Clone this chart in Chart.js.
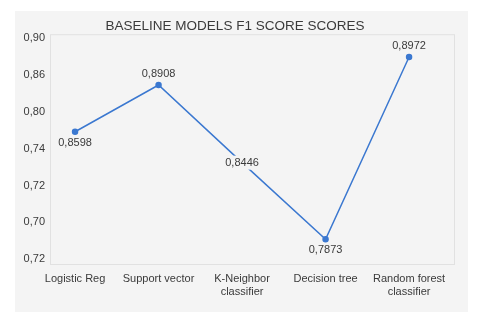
<!DOCTYPE html>
<html>
<head>
<meta charset="utf-8">
<script src="https://cdn.jsdelivr.net/npm/chart.js@4"></script>
<style>
  body { margin: 0; background: #fff; }
  #panel { position: absolute; left: 15px; top: 11px; width: 453px; height: 301px; background: #f4f4f4; }
</style>
</head>
<body>
<div id="panel"><canvas id="scoreChart" width="453" height="301"></canvas></div>
<script>
const models = [["Logistic Reg"], ["Support vector"], ["K-Neighbor", "classifier"], ["Decision tree"], ["Random forest", "classifier"]];
// F1 scores as printed next to each point
const scores = [0.8598, 0.8908, 0.8446, 0.7873, 0.8972];
// where each point sits against the (odd) y tick rows, bottom row = 0
const plotPos = [3.46, 4.73, 2.62, 0.54, 5.49];
// y tick labels, bottom to top, as they appear on the chart
const yTickLabels = ["0,72", "0,70", "0,72", "0,74", "0,80", "0,86", "0,90"];

const blue = "#3b78d0";
const textColor = "#3a3a3a";

const boxPlugin = {
    id: "box",
    beforeDatasetsDraw(chart) {
        const a = chart.chartArea;
        const ctx = chart.ctx;
        ctx.save();
        ctx.strokeStyle = "#e1e1e1";
        ctx.lineWidth = 1;
        ctx.strokeRect(a.left + 0.5, a.top + 0.5, a.right - a.left - 1, a.bottom - a.top - 1);
        ctx.restore();
    }
};

const labelPlugin = {
    id: "pointLabels",
    afterDatasetsDraw(chart) {
        const ctx = chart.ctx;
        const pts = chart.getDatasetMeta(0).data;
        ctx.save();
        ctx.font = "11px 'Liberation Sans', Arial, sans-serif";
        ctx.textAlign = "center";
        ctx.textBaseline = "middle";
        pts.forEach((p, i) => {
            const prev = i > 0 ? plotPos[i - 1] : null;
            const next = i < plotPos.length - 1 ? plotPos[i + 1] : null;
            const v = plotPos[i];
            const higher = (prev === null || v > prev) && (next === null || v > next);
            const lower = (prev === null || v < prev) && (next === null || v < next);
            const text = scores[i].toFixed(4).replace(".", ",");
            let y = p.y;
            if (higher) y -= 11;
            else if (lower) y += 11;
            else {
                const w = ctx.measureText(text).width;
                ctx.fillStyle = "#f4f4f4";
                ctx.fillRect(p.x - w / 2 - 2, y - 7, w + 4, 14);
            }
            ctx.fillStyle = textColor;
            ctx.fillText(text, p.x, y);
        });
        ctx.restore();
    }
};

new Chart(document.getElementById("scoreChart"), {
    type: "line",
    data: {
        datasets: [{
            data: plotPos.map((v, i) => ({ x: i, y: v })),
            borderColor: blue,
            backgroundColor: blue,
            borderWidth: 1.5,
            pointRadius: 2.5,
            pointHoverRadius: 2.5,
            tension: 0
        }]
    },
    options: {
        responsive: false,
        animation: false,
        layout: { padding: { top: 2, right: 13, bottom: 0, left: 0 } },
        plugins: {
            legend: { display: false },
            tooltip: { enabled: false },
            title: {
                display: true,
                text: "BASELINE MODELS F1 SCORE SCORES",
                color: textColor,
                font: { family: "'Liberation Sans', Arial, sans-serif", size: 13.5, weight: "normal" },
                padding: { top: 5, bottom: 0 }
            }
        },
        scales: {
            x: {
                type: "linear",
                min: -0.3,
                max: 4.55,
                afterBuildTicks: s => { s.ticks = models.map((m, i) => ({ value: i })); },
                afterFit: s => { s.height = 47; },
                grid: { display: false, drawTicks: false },
                border: { display: false },
                ticks: {
                    padding: 7,
                    color: textColor,
                    font: { family: "'Liberation Sans', Arial, sans-serif", size: 11 },
                    maxRotation: 0,
                    autoSkip: false,
                    callback: v => models[v]
                }
            },
            y: {
                min: -0.16,
                max: 6.11,
                afterBuildTicks: s => { s.ticks = yTickLabels.map((t, i) => ({ value: i })); },
                afterFit: s => { s.width = 35; },
                grid: { display: false, drawTicks: false },
                border: { display: false },
                ticks: {
                    padding: 5,
                    color: textColor,
                    font: { family: "'Liberation Sans', Arial, sans-serif", size: 11 },
                    autoSkip: false,
                    callback: v => yTickLabels[v]
                }
            }
        }
    },
    plugins: [boxPlugin, labelPlugin]
});
</script>
</body>
</html>
